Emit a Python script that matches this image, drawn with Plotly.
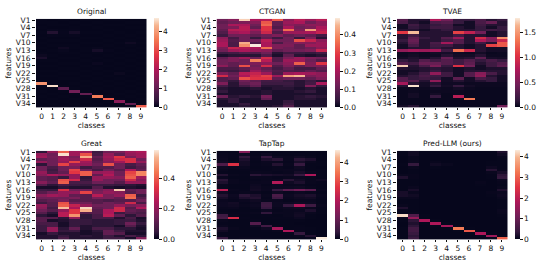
import plotly.graph_objects as go

classes = [str(i) for i in range(10)]
features = [f"V{i}" for i in range(1, 36)]
feature_ticks = [f"V{i}" for i in range(1, 36, 3)]

original = [
[.03,.02,.03,.02,.03,.02,.03,.03,.02,.02],[.03,.03,.02,.03,.02,.03,.02,.02,.03,.03],[.02,.03,.03,.02,.03,.02,.03,.03,.02,.02],
[.03,.02,.02,.03,.02,.03,.02,.02,.03,.03],[.02,.05,.03,.04,.02,.02,.03,.02,.02,.02],[.03,.25,.04,.15,.03,.03,.02,.03,.02,.03],
[.02,.04,.03,.04,.02,.02,.03,.02,.03,.02],[.03,.02,.02,.02,.03,.03,.02,.03,.02,.03],[.02,.03,.03,.03,.02,.02,.03,.02,.03,.02],
[.03,.02,.02,.02,.03,.03,.02,.03,.1,.03],[.02,.03,.03,.03,.02,.02,.03,.02,.03,.02],[.03,.02,.1,.03,.03,.05,.02,.03,.02,.03],
[.02,.03,.05,.02,.03,.15,.04,.02,.03,.02],[.03,.02,.03,.03,.02,.03,.02,.03,.02,.03],[.08,.03,.02,.02,.03,.02,.03,.02,.03,.02],
[.18,.02,.03,.03,.02,.03,.02,.03,.02,.03],[.03,.03,.02,.02,.03,.02,.03,.02,.03,.02],[.02,.02,.03,.03,.02,.06,.02,.03,.02,.03],
[.03,.03,.02,.02,.03,.02,.03,.02,.03,.02],[.02,.02,.03,.03,.02,.03,.02,.03,.02,.03],[.03,.03,.02,.02,.03,.02,.03,.02,.03,.02],
[.02,.02,.03,.03,.02,.03,.02,.07,.02,.03],[.03,.03,.02,.02,.03,.02,.03,.02,.03,.02],[.02,.02,.03,.03,.02,.03,.02,.03,.02,.03],
[.03,.03,.02,.02,.03,.02,.03,.02,.03,.02],[3.9,.03,.02,.03,.02,.03,.02,.03,.02,.03],[.03,4.6,.03,.02,.03,.02,.03,.02,.03,.02],
[.02,.03,.9,.03,.02,.03,.02,.03,.02,.03],[.03,.02,.03,1.2,.03,.02,.03,.02,.03,.02],[.02,.03,.02,.03,1.0,.03,.02,.03,.02,.03],
[.03,.02,.03,.02,.03,3.6,.03,.02,.03,.02],[.02,.03,.02,.03,.02,.03,3.2,.03,.02,.03],[.03,.02,.03,.02,.03,.02,.03,1.5,.03,.02],
[.02,.03,.02,.03,.02,.03,.02,.03,1.0,.03],[.03,.02,.03,.02,.03,.02,.03,.02,.03,3.2],
]
ctgan = [
[.12,.15,.47,.2,.22,.33,.16,.22,.18,.22],[.1,.12,.14,.15,.33,.1,.18,.2,.12,.16],[.12,.2,.2,.12,.35,.1,.16,.14,.16,.16],
[.12,.14,.22,.1,.28,.08,.2,.12,.14,.2],[.1,.22,.22,.18,.28,.12,.36,.14,.42,.22],[.08,.18,.2,.14,.25,.08,.18,.18,.2,.24],
[.05,.12,.12,.1,.12,.14,.1,.12,.1,.06],[.16,.06,.12,.04,.1,.05,.12,.04,.14,.03],[.18,.08,.12,.12,.22,.12,.12,.32,.24,.16],
[.2,.07,.44,.08,.2,.07,.13,.15,.15,.18],[.2,.07,.4,.49,.2,.14,.14,.1,.18,.18],[.14,.24,.22,.2,.36,.14,.12,.1,.12,.16],
[.12,.18,.2,.18,.16,.1,.12,.12,.14,.24],[.05,.06,.08,.08,.12,.03,.06,.05,.04,.06],[.02,.03,.03,.03,.08,.02,.1,.03,.02,.03],
[.1,.14,.18,.12,.26,.08,.14,.18,.14,.12],[.12,.14,.12,.38,.22,.08,.18,.18,.12,.08],[.12,.1,.12,.14,.16,.12,.16,.34,.14,.28],
[.16,.1,.32,.12,.26,.08,.14,.1,.14,.14],[.07,.07,.1,.14,.1,.06,.1,.06,.06,.1],[.06,.05,.08,.18,.12,.08,.08,.07,.1,.08],
[.14,.1,.22,.24,.18,.07,.18,.2,.18,.16],[.26,.12,.2,.26,.3,.18,.42,.45,.14,.16],[.08,.1,.32,.28,.28,.1,.12,.12,.1,.14],
[.08,.04,.12,.1,.06,.06,.04,.03,.05,.03],[.14,.03,.1,.12,.05,.05,.05,.03,.06,.2],[.06,.03,.06,.1,.03,.03,.04,.03,.14,.04],
[.03,.02,.02,.03,.02,.03,.03,.02,.03,.02],[.04,.02,.02,.02,.03,.02,.02,.03,.04,.02],[.02,.02,.02,.02,.03,.02,.02,.02,.02,.02],
[.12,.03,.04,.03,.13,.02,.02,.03,.04,.03],[.03,.04,.02,.02,.1,.02,.02,.03,.03,.02],[.02,.04,.02,.02,.02,.02,.04,.02,.02,.02],
[.02,.02,.04,.02,.02,.02,.05,.02,.02,.02],[.02,.02,.03,.02,.02,.03,.08,.02,.02,.02],
]
tvae = [
[.3,.1,.1,.75,.45,.15,.15,.25,.1,.15],[.25,.1,.05,.25,.3,.15,.05,.25,.4,.1],[.05,.2,.1,.15,.2,.05,.05,.2,.1,.1],
[.05,.15,.1,.2,.2,.1,.05,.15,.05,.15],[.1,.1,.05,.1,.15,.1,.1,.15,.2,.15],[1.05,1.65,.1,.1,.1,1.1,.85,.45,.05,.1],
[.1,.2,.1,.1,.1,.2,.1,.1,.05,.1],[.1,.35,.15,.1,.3,.65,.1,.95,.55,1.45],[.15,.4,.1,.1,.2,.3,.1,.75,.5,.9],
[.1,.35,.1,.25,.7,.3,.1,.2,.1,1.2],[.05,.25,.1,.2,.2,.1,.05,.1,1.1,1.2],[.05,.1,.1,.15,.1,.1,.05,.1,.05,.05],
[.6,.7,.65,.7,.2,1.3,.9,.1,.05,.05],[.03,.04,.03,.05,.06,.04,.03,.05,.02,.03],[.03,.05,.03,.04,.1,.05,.05,.1,.03,.03],
[.05,.08,.05,.1,.4,.08,.1,.35,.06,.05],[.15,.1,.3,.2,.3,.2,.3,.15,.25,.15],[.3,.2,.4,.4,.3,.2,.35,.1,.2,.3],
[1.7,.1,.25,.5,.15,1.0,.45,.05,.2,.35],[.1,.08,.1,.12,.1,.05,.08,.05,.08,.08],[.05,.05,.1,.15,.1,.05,.1,.1,.1,.1],
[.05,.1,.2,.6,.2,.05,.3,.55,.25,.1],[.1,.15,.25,.2,.2,.05,.3,.6,.1,.05],[.3,.15,.2,.15,.05,.35,.05,.25,.15,.05],
[.3,.3,.1,.6,.05,.1,.05,.1,.15,.05],[.7,.1,.05,.1,.04,.04,.03,.03,.03,.03],[.1,1.75,.05,.15,.05,.15,.05,.03,.03,.03],
[.03,.03,.03,.04,.03,.05,.03,.02,.02,.02],[.02,.03,.02,.03,.03,.03,.02,.02,.02,.02],[.02,.05,.02,.05,.02,.03,.02,.02,.02,.02],
[.02,.05,.02,.15,.02,.8,.02,.02,.02,.02],[.02,.02,.02,.02,.02,.02,1.35,.02,.02,.02],[.02,.02,.02,.02,.02,.02,.02,.02,.02,.02],
[.02,.02,.02,.02,.02,.02,.02,.02,.02,.02],[.05,.1,.02,.02,.02,.02,.02,.02,.02,.45],
]
great = [
[.04,.2,.4,.22,.22,.06,.14,.16,.22,.24],[.2,.14,.57,.22,.38,.08,.2,.12,.2,.22],[.22,.15,.2,.16,.52,.12,.22,.34,.16,.22],
[.12,.14,.22,.18,.3,.1,.2,.3,.32,.14],[.2,.14,.2,.36,.22,.12,.18,.22,.32,.2],[.04,.14,.36,.2,.2,.14,.38,.14,.08,.12],
[.14,.08,.14,.16,.06,.1,.1,.14,.06,.1],[.14,.06,.14,.36,.14,.07,.14,.1,.24,.12],[.2,.08,.12,.34,.4,.2,.22,.14,.36,.46],
[.18,.24,.2,.2,.4,.12,.25,.14,.38,.46],[.12,.1,.05,.2,.04,.2,.2,.18,.4,.22],[.12,.1,.38,.3,.05,.2,.14,.14,.3,.18],
[.18,.12,.4,.08,.08,.14,.14,.1,.2,.2],[.1,.04,.08,.06,.05,.06,.06,.05,.04,.03],[.02,.02,.04,.03,.03,.1,.03,.02,.03,.02],
[.06,.05,.32,.14,.14,.14,.18,.55,.12,.14],[.1,.14,.2,.2,.36,.16,.2,.18,.1,.14],[.18,.22,.2,.12,.1,.26,.16,.2,.4,.06],
[.14,.14,.14,.16,.1,.16,.16,.12,.42,.1],[.1,.12,.16,.1,.1,.1,.08,.1,.1,.14],[.06,.1,.38,.14,.14,.1,.14,.12,.3,.08],
[.2,.1,.4,.28,.2,.14,.14,.2,.16,.18],[.18,.07,.54,.24,.56,.12,.14,.3,.1,.24],[.14,.1,.2,.34,.52,.1,.24,.3,.12,.1],
[.1,.04,.26,.34,.1,.1,.24,.06,.1,.08],[.04,.02,.26,.48,.04,.08,.26,.12,.04,.1],[.1,.1,.04,.2,.04,.08,.08,.03,.08,.02],
[.1,.02,.03,.05,.05,.04,.04,.05,.06,.03],[.08,.08,.02,.05,.05,.04,.04,.05,.14,.05],[.06,.08,.02,.05,.03,.04,.04,.02,.1,.03],
[.06,.2,.04,.12,.03,.08,.08,.04,.04,.02],[.06,.2,.05,.06,.02,.04,.12,.06,.03,.03],[.02,.05,.03,.03,.02,.03,.12,.1,.02,.02],
[.03,.03,.05,.03,.04,.03,.06,.03,.08,.04],[.03,.03,.08,.03,.03,.03,.06,.06,.02,.17],
]
taptap = [
[.04,.03,1.4,.03,.03,.02,.03,.02,.03,.02],[.05,.04,.1,.03,.08,.03,.03,.04,.03,.02],[.06,.04,.35,.05,.4,.08,.05,.1,.05,.02],
[.07,.03,.2,.04,.2,.3,.05,.3,.2,.02],[.1,.05,.12,.03,.06,.06,.04,.15,.05,.03],[.7,2.6,.12,.04,.05,.25,.05,.4,.03,.03],
[.08,.05,.06,.03,.04,.05,.04,.1,.03,.02],[.05,.03,.04,.04,.04,.05,.06,.08,.03,.03],[.04,.03,.03,.06,.05,.04,.05,.15,.06,.03],
[.25,.05,.04,.3,.2,.15,.12,.4,1.9,.03],[.06,.03,.03,.05,.05,.04,.05,.06,.05,.03],[.3,.05,.03,.04,.05,.06,.3,.12,.05,.1],
[.2,.05,.04,.05,.06,2.0,.1,.2,.05,.04],[.05,.03,.03,.08,.04,.08,.05,.05,.04,.03],[.05,.03,.03,.1,.05,.08,.08,.1,.05,.03],
[2.1,.05,.04,.12,.06,.4,.9,1.2,.9,.05],[.1,.04,.05,.05,.03,.1,.05,.08,.05,.03],[.25,.08,.3,.2,.05,.65,.08,.15,.2,.05],
[.15,.06,.2,.25,.04,.5,.06,.1,.12,.04],[.06,.04,.06,.1,.05,.06,.04,.06,.06,.03],[.08,.12,.04,.06,.45,.08,.08,.1,.08,.03],
[.08,.1,.05,.08,.5,.08,.4,1.9,.5,.05],[.05,.06,.03,.05,.4,.05,.08,.1,.06,.03],[.04,.03,.03,.03,.08,.04,.05,.06,.2,.03],
[.05,.04,.04,.05,.35,.06,.05,.1,.05,.03],[.5,.05,.03,.03,.04,.03,.05,.12,.03,.02],[.6,2.5,.04,.03,.03,.04,.04,.08,.03,.02],
[.05,.03,.03,.04,.03,.03,.03,.03,.02,.02],[.04,.03,.03,.8,.03,.03,.03,.02,.02,.02],[.06,.03,.03,.1,.55,.03,.03,.03,.02,.02],
[.2,.05,.03,.04,.1,1.8,.03,.04,.03,.02],[.12,.03,.03,.03,.04,.05,1.9,.05,.03,.02],[.04,.03,.03,.03,.03,.03,.04,.4,.03,.02],
[.04,.03,.03,.03,.03,.03,.03,.05,.25,.02],[.4,.04,.05,.05,.04,.03,.03,.03,.04,4.6],
]
pred_llm = [
[.03,.1,.02,.02,.02,.02,.02,.02,.02,.2],[.03,.1,.02,.02,.02,.02,.02,.02,.02,.1],[.02,.05,.02,.02,.02,.02,.02,.02,.02,.04],
[.02,.05,.02,.02,.02,.02,.02,.02,.02,.03],[.02,.06,.02,.04,.02,.02,.02,.02,.03,.03],[.03,.35,.02,.1,.05,.02,.02,.02,.03,.03],
[.02,.05,.02,.03,.02,.02,.02,.02,.08,.03],[.02,.03,.02,.02,.02,.02,.02,.02,.25,.04],[.02,.03,.02,.02,.02,.02,.02,.02,.05,.15],
[.05,.04,.02,.02,.02,.02,.02,.02,.03,.3],[.2,.04,.02,.02,.02,.02,.02,.02,.03,.35],[.03,.03,.02,.02,.02,.02,.02,.02,.02,.06],
[.03,.03,.02,.02,.02,.02,.02,.04,.02,.04],[.03,.03,.02,.02,.02,.02,.02,.03,.02,.03],[.03,.06,.02,.02,.02,.02,.02,.02,.02,.05],
[.03,.15,.02,.02,.02,.02,.02,.02,.02,.2],[.15,.05,.02,.02,.02,.02,.02,.02,.04,.06],[.15,.1,.02,.02,.02,.02,.02,.02,.03,.08],
[.05,.06,.02,.02,.02,.02,.02,.02,.02,.05],[.03,.03,.02,.02,.02,.02,.02,.02,.02,.03],[.03,.03,.02,.02,.02,.02,.02,.02,.02,.03],
[.05,.03,.02,.02,.02,.02,.02,.02,.02,.03],[.2,.03,.02,.02,.02,.02,.02,.02,.02,.03],[.05,.03,.02,.02,.02,.02,.02,.02,.02,.06],
[.03,.05,.02,.02,.02,.02,.02,.02,.02,.05],[4.2,.7,.03,.02,.02,.02,.02,.02,.02,.03],[.05,1.5,.03,.02,.02,.02,.02,.02,.02,.02],
[.03,.3,1.8,.03,.02,.02,.02,.02,.02,.02],[.02,.2,.03,1.8,.03,.02,.02,.02,.02,.02],[.02,.3,.02,.03,1.7,.03,.02,.02,.02,.02],
[.03,.5,.02,.02,.03,3.3,.03,.02,.02,.02],[.03,.5,.02,.02,.02,.03,2.9,.03,.02,.02],[.03,.4,.02,.02,.02,.02,.03,1.8,.03,.02],
[.03,.3,.02,.02,.02,.02,.02,.03,1.6,.03],[.03,.4,.02,.02,.02,.02,.02,.02,.03,3.0],
]

titles = ["Original", "CTGAN", "TVAE", "Great", "TapTap", "Pred-LLM (ours)"]
matrices = [original, ctgan, tvae, great, taptap, pred_llm]
z_max = [4.7, 0.49, 1.78, 0.58, 4.6, 4.3]
cbar_dtick = [1, 0.1, 0.5, 0.2, 1, 1]
cbar_format = ["d", ".1f", ".1f", ".1f", "d", "d"]

W, H = 542, 269
x_left = [36, 216.5, 397]
y_top = [16, 150]
PW, PH = 110.5, 90

rocket = [[0, "#03051a"], [1/12, "#35193e"], [3/12, "#701f57"], [5/12, "#ad1759"],
          [7/12, "#e13342"], [9/12, "#f37651"], [11/12, "#f6b48f"], [1, "#faebdd"]]
FONT = "DejaVu Sans"
TXT = "#111111"
FS = 7.5

fig = go.Figure()
annots = []
for i, (t, m) in enumerate(zip(titles, matrices)):
    col, row = i % 3, i // 3
    x0, y0 = x_left[col], y_top[row]
    ax = "" if i == 0 else str(i + 1)
    fig.add_trace(go.Heatmap(
        z=m, x=classes, y=features, xaxis="x" + ax, yaxis="y" + ax,
        colorscale=rocket, zmin=0, zmax=z_max[i],
        colorbar=dict(
            x=(x0 + PW + 7.5) / W, xref="paper", xanchor="left", xpad=0, ypad=0,
            y=1 - (y0 + PH) / H, yref="paper", yanchor="bottom",
            len=PH / H, lenmode="fraction", thickness=4.5, thicknessmode="pixels",
            outlinewidth=0, tick0=0, dtick=cbar_dtick[i], ticks="outside", ticklen=3,
            tickwidth=0.6, tickcolor=TXT, tickformat=cbar_format[i],
            tickfont=dict(family=FONT, size=FS, color=TXT),
        ),
    ))
    fig.update_layout({
        "xaxis" + ax: dict(
            domain=[x0 / W, (x0 + PW) / W], anchor="y" + ax, type="category",
            tickmode="array", tickvals=classes, ticktext=classes, tickangle=0,
            ticks="outside", ticklen=2, tickwidth=0.6, tickcolor=TXT,
            tickfont=dict(family=FONT, size=FS, color=TXT), showgrid=False, zeroline=False,
            title=dict(text="classes", font=dict(family=FONT, size=FS, color=TXT), standoff=2),
        ),
        "yaxis" + ax: dict(
            domain=[1 - (y0 + PH) / H, 1 - y0 / H], anchor="x" + ax, type="category",
            autorange="reversed", tickmode="array", tickvals=feature_ticks, ticktext=feature_ticks,
            ticks="outside", ticklen=3, tickwidth=0.6, tickcolor=TXT,
            tickfont=dict(family=FONT, size=FS, color=TXT), showgrid=False, zeroline=False,
            title=dict(text="features", font=dict(family=FONT, size=FS, color=TXT), standoff=3),
        ),
    })
    annots.append(dict(text=t, x=(x0 + PW / 2) / W, y=1 - (y0 - 7.5) / H, xref="paper", yref="paper",
                       showarrow=False, xanchor="center", yanchor="middle",
                       font=dict(family=FONT, size=FS, color=TXT)))

fig.update_layout(width=W, height=H, margin=dict(l=0, r=0, t=0, b=0),
                  paper_bgcolor="white", plot_bgcolor="white", annotations=annots)
fig.write_html("out.html", config={"displayModeBar": False},
               post_script="document.body.style.margin='0';")
